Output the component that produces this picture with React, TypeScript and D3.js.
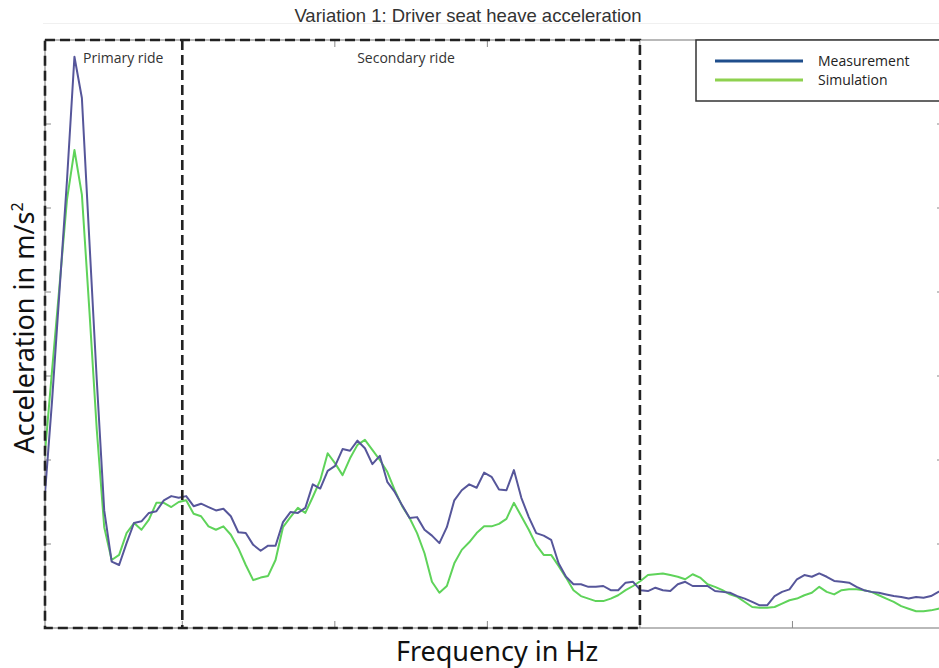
import React from "react";
import * as d3 from "d3";

// FFT bin spacing of the seat heave spectra (1 kHz sampling, 4096-point window)
const BIN_HZ = 1000 / 4096;
const FIRST_BIN = 2;

// Measured driver seat heave acceleration spectrum, m/s²
const measurement = [
  1.55, 2.71, 4.02, 5.33, 6.8, 6.31, 4.62, 2.95, 1.4, 0.79,
  0.75, 1.01, 1.25, 1.27, 1.37, 1.39, 1.52, 1.57, 1.55, 1.57,
  1.45, 1.48, 1.44, 1.4, 1.42, 1.33, 1.14, 1.13, 0.99, 0.92,
  0.98, 0.98, 1.26, 1.38, 1.37, 1.43, 1.71, 1.66, 1.87, 1.93,
  2.13, 2.11, 2.23, 2.14, 1.95, 2.05, 1.74, 1.62, 1.46, 1.31,
  1.32, 1.17, 1.1, 1.01, 1.2, 1.52, 1.64, 1.71, 1.67, 1.85,
  1.8, 1.65, 1.64, 1.88, 1.55, 1.32, 1.13, 1.1, 1.05, 0.77,
  0.61, 0.52, 0.52, 0.49, 0.49, 0.5, 0.45, 0.45, 0.54, 0.55,
  0.45, 0.44, 0.48, 0.45, 0.44, 0.52, 0.55, 0.5, 0.5, 0.5,
  0.44, 0.43, 0.42, 0.38, 0.35, 0.31, 0.27, 0.27, 0.38, 0.43,
  0.46, 0.58, 0.63, 0.61, 0.65, 0.61, 0.56, 0.55, 0.54, 0.49,
  0.45, 0.43, 0.42, 0.4, 0.38, 0.37, 0.35, 0.37, 0.36, 0.38,
  0.43, 0.48,
];

// Simulated driver seat heave acceleration spectrum, m/s²
const simulation = [
  2.04, 3.07, 4.08, 5.1, 5.69, 5.16, 3.79, 2.36, 1.2, 0.81,
  0.87, 1.13, 1.25, 1.17, 1.29, 1.49, 1.49, 1.44, 1.5, 1.52,
  1.36, 1.33, 1.21, 1.17, 1.21, 1.11, 0.95, 0.75, 0.57, 0.6,
  0.62, 0.81, 1.2, 1.32, 1.43, 1.37, 1.56, 1.76, 2.08, 1.96,
  1.82, 2.02, 2.18, 2.24, 2.12, 2.0, 1.86, 1.64, 1.45, 1.31,
  1.13, 0.89, 0.55, 0.42, 0.5, 0.77, 0.93, 1.02, 1.13, 1.21,
  1.21, 1.24, 1.3, 1.49, 1.33, 1.17, 0.99, 0.87, 0.87, 0.74,
  0.6, 0.45, 0.38, 0.35, 0.32, 0.32, 0.35, 0.39, 0.45, 0.5,
  0.56, 0.63, 0.64, 0.65, 0.63, 0.61, 0.58, 0.64, 0.6, 0.52,
  0.49, 0.45, 0.4, 0.37, 0.31, 0.25, 0.24, 0.24, 0.25, 0.29,
  0.33, 0.35, 0.39, 0.42, 0.49, 0.43, 0.4, 0.45, 0.46, 0.46,
  0.45, 0.43, 0.39, 0.35, 0.31, 0.26, 0.23, 0.2, 0.2, 0.21,
  0.23, 0.24,
];

const seriesNames = ["Measurement", "Simulation"];
const xTickValues = [5, 10, 15, 20, 25];
const yTickValues = [1, 2, 3, 4, 5, 6];
// Frequency bands marked on the chart, Hz
const bandNames = ["Primary ride", "Secondary ride"];
const bandEdges = [0.5, 5, 20];

const W = 939;
const H = 668;
const plot = { left: 45, right: 945, top: 40, bottom: 628 };

const MEAS_COLOR = "#56569a";
const SIM_COLOR = "#5fd35a";
const LEGEND_COLORS = ["#1f4e8c", "#8ed14f"];

export default function App() {
  const x = d3.scaleLinear().domain([0.5, 30]).range([plot.left, plot.right]);
  const y = d3.scaleLinear().domain([0, 7]).range([plot.bottom, plot.top]);

  const toPoints = (vals: number[]) =>
    vals.map((v, i) => ({ f: (FIRST_BIN + i) * BIN_HZ, v }));

  const line = d3
    .line<{ f: number; v: number }>()
    .x((d) => x(d.f))
    .y((d) => y(d.v));

  const measPath = line(toPoints(measurement)) || "";
  const simPath = line(toPoints(simulation)) || "";

  const axisGray = "#8a8a8a";
  const dash = "10,5";

  // dashed band outline: one outer box plus the inner band dividers
  const bx0 = x(bandEdges[0]);
  const bx1 = x(bandEdges[bandEdges.length - 1]);
  const dividers = bandEdges.slice(1, -1);

  return (
    <div style={{ position: "fixed", left: 0, top: 0 }}>
      <svg width={W} height={H} style={{ display: "block", background: "#fff" }}>
        <defs>
          <clipPath id="plotClip">
            <rect
              x={plot.left}
              y={plot.top}
              width={plot.right - plot.left}
              height={plot.bottom - plot.top}
            />
          </clipPath>
        </defs>

        {/* title */}
        <line x1={43} x2={W} y1={23.5} y2={23.5} stroke="#f0f0f0" strokeWidth={1} />
        <text
          x={468}
          y={22}
          textAnchor="middle"
          fontFamily="Liberation Sans, Arial, sans-serif"
          fontSize={18.5}
          fill="#333"
        >
          Variation 1: Driver seat heave acceleration
        </text>

        {/* axes frame */}
        <rect
          x={plot.left}
          y={plot.top}
          width={plot.right - plot.left}
          height={plot.bottom - plot.top}
          fill="none"
          stroke={axisGray}
          strokeWidth={1.2}
        />
        {xTickValues.map((t) => (
          <g key={"xt" + t}>
            <line x1={x(t)} x2={x(t)} y1={plot.bottom} y2={plot.bottom - 7} stroke={axisGray} />
            <line x1={x(t)} x2={x(t)} y1={plot.top} y2={plot.top + 7} stroke={axisGray} />
          </g>
        ))}
        {yTickValues.map((t) => (
          <g key={"yt" + t}>
            <line x1={plot.left} x2={plot.left + 6} y1={y(t)} y2={y(t)} stroke={axisGray} />
            <line x1={plot.right} x2={plot.right - 8} y1={y(t)} y2={y(t)} stroke={axisGray} />
          </g>
        ))}

        {/* spectra */}
        <g clipPath="url(#plotClip)" fill="none" strokeLinejoin="round">
          <path d={simPath} stroke={SIM_COLOR} strokeWidth={2} />
          <path d={measPath} stroke={MEAS_COLOR} strokeWidth={2} />
        </g>

        {/* ride frequency bands */}
        <g fill="none" stroke="#222" strokeWidth={2.6} strokeDasharray={dash}>
          <rect x={bx0} y={plot.top} width={bx1 - bx0} height={plot.bottom - plot.top} />
          {dividers.map((f) => (
            <line key={"div" + f} x1={x(f)} x2={x(f)} y1={plot.top} y2={plot.bottom} />
          ))}
        </g>
        <g fontFamily="Open Sans, sans-serif" fontSize={14} fill="#333">
          <text x={83} y={63}>
            {bandNames[0]}
          </text>
          <text x={406} y={63} textAnchor="middle">
            {bandNames[1]}
          </text>
        </g>

        {/* legend */}
        <rect x={696} y={40} width={260} height={61} fill="#fff" stroke="#333" strokeWidth={1.5} />
        {seriesNames.map((name, i) => (
          <g key={name}>
            <line
              x1={715}
              x2={803}
              y1={61 + i * 19}
              y2={61 + i * 19}
              stroke={LEGEND_COLORS[i]}
              strokeWidth={3}
            />
            <text
              x={818}
              y={66 + i * 19}
              fontFamily="Open Sans, sans-serif"
              fontSize={14}
              fill="#222"
            >
              {name}
            </text>
          </g>
        ))}

        {/* axis labels */}
        <text
          transform="translate(34, 328) rotate(-90)"
          textAnchor="middle"
          fontFamily="Noto Sans, sans-serif"
          fontSize={27}
          fill="#111"
        >
          Acceleration in m/s<tspan dy={-11} fontSize={16}>2</tspan>
        </text>
        <text
          x={497}
          y={661}
          textAnchor="middle"
          fontFamily="Noto Sans, sans-serif"
          fontSize={27}
          fill="#111"
        >
          Frequency in Hz
        </text>
      </svg>
    </div>
  );
}
